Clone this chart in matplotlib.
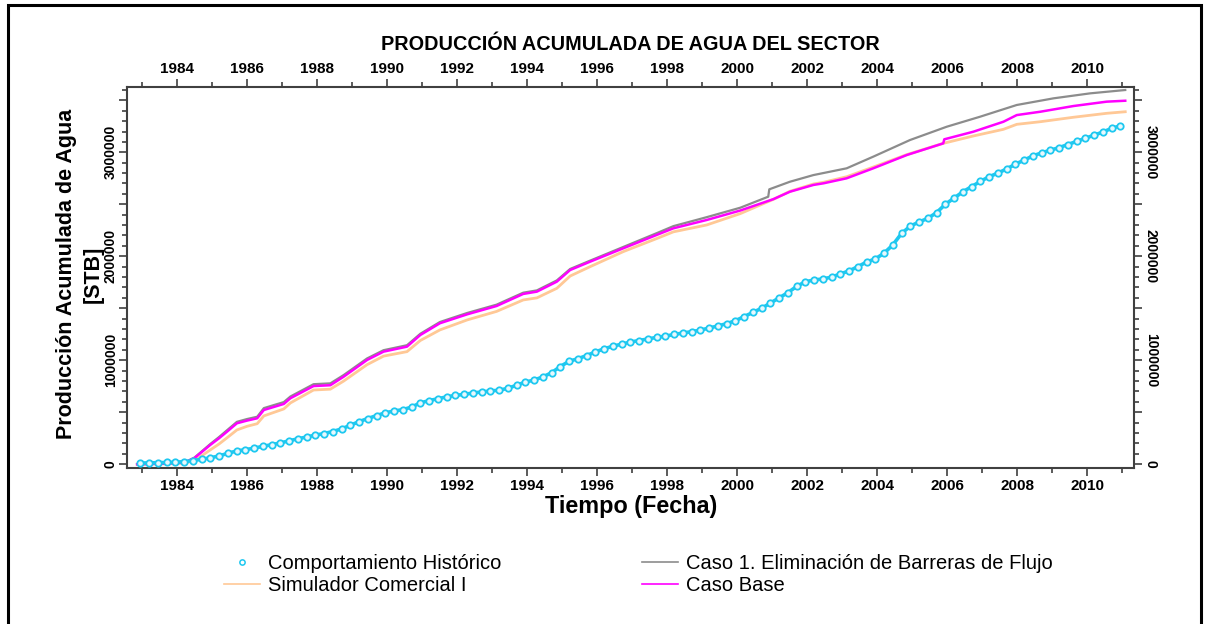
import numpy as np
import matplotlib
matplotlib.use("Agg")
import matplotlib.pyplot as plt
from matplotlib.patches import Rectangle
from matplotlib.lines import Line2D
from matplotlib.ticker import MultipleLocator, FuncFormatter

plt.rcParams["font.family"] = ["Liberation Sans", "DejaVu Sans"]

# --- data (values in thousands of STB) ---
base_years = [1982.86, 1983.5, 1984.2, 1984.5, 1984.95, 1985.2, 1985.43, 1985.71, 1986.0,
              1986.29, 1986.48, 1987.05, 1987.24, 1987.9, 1988.38, 1988.76, 1989.43, 1989.9,
              1990.57, 1990.95, 1991.51, 1992.29, 1993.13, 1993.89, 1994.28, 1994.85, 1995.23,
              1995.8, 1996.75, 1997.7, 1998.18, 1999.13, 2000.09, 2001.04, 2001.51, 2002.18,
              2002.47, 2003.13, 2003.89, 2004.85, 2005.89, 2005.92, 2006.75, 2007.61, 2007.99,
              2008.66, 2009.61, 2010.56, 2011.09]
base_vals = [0, 5, 15, 60, 186, 250, 314, 394, 420, 442, 522, 580, 635, 752, 760, 842, 1003,
             1083, 1131, 1243, 1356, 1442, 1522, 1638, 1660, 1756, 1868, 1948, 2077, 2205,
             2269, 2349, 2440, 2550, 2621, 2686, 2702, 2750, 2846, 2974, 3086, 3125, 3198,
             3294, 3358, 3390, 3445, 3487, 3496]

caso1_years = [1982.86, 1983.5, 1984.2, 1984.5, 1984.95, 1985.2, 1985.43, 1985.71, 1986.0,
               1986.29, 1986.48, 1987.05, 1987.24, 1987.9, 1988.38, 1988.76, 1989.43, 1989.9,
               1990.57, 1990.95, 1991.51, 1992.29, 1993.13, 1993.89, 1994.28, 1994.85, 1995.23,
               1995.8, 1996.75, 1997.7, 1998.18, 1999.13, 2000.09, 2000.89, 2000.92, 2001.51,
               2002.18, 2003.13, 2003.89, 2004.94, 2005.99, 2006.94, 2007.99, 2009.04, 2010.09,
               2011.09]
caso1_vals = [0, 5, 15, 65, 195, 262, 328, 408, 435, 457, 540, 598, 652, 770, 778, 858, 1018,
              1097, 1145, 1255, 1368, 1455, 1535, 1650, 1672, 1768, 1878, 1958, 2090, 2222,
              2290, 2376, 2467, 2573, 2644, 2717, 2781, 2846, 2958, 3118, 3246, 3342, 3455,
              3519, 3567, 3599]

sim_years = [1982.86, 1983.5, 1984.2, 1984.5, 1984.95, 1985.2, 1985.43, 1985.71, 1986.0,
             1986.29, 1986.48, 1987.05, 1987.24, 1987.9, 1988.38, 1988.76, 1989.43, 1989.9,
             1990.57, 1990.95, 1991.51, 1992.29, 1993.13, 1993.89, 1994.28, 1994.85, 1995.23,
             1995.8, 1996.75, 1997.7, 1998.18, 1999.13, 2000.09, 2001.04, 2001.51, 2002.18,
             2002.47, 2003.13, 2003.89, 2004.85, 2005.89, 2006.75, 2007.61, 2007.99, 2008.66,
             2009.61, 2010.56, 2011.09]
sim_vals = [0, 3, 10, 35, 138, 195, 255, 330, 365, 390, 465, 532, 590, 714, 722, 800, 958,
            1040, 1083, 1190, 1292, 1388, 1470, 1580, 1600, 1692, 1810, 1900, 2045, 2170,
            2235, 2301, 2410, 2548, 2625, 2695, 2712, 2765, 2858, 2978, 3086, 3157, 3221,
            3269, 3294, 3337, 3375, 3390]

# historical production, quarterly from 1982.95
hist_vals = [12, 13, 15, 17, 20, 25, 35, 48, 62, 80, 105, 128, 140, 155, 172, 188, 205, 225,
             245, 262, 280, 295, 315, 340, 375, 410, 440, 468, 495, 512, 525, 550, 590, 612,
             630, 648, 662, 672, 685, 695, 705, 712, 730, 760, 790, 810, 840, 880, 940, 990,
             1015, 1045, 1080, 1110, 1135, 1155, 1175, 1190, 1205, 1220, 1232, 1248, 1262,
             1275, 1290, 1310, 1330, 1352, 1380, 1420, 1460, 1500, 1550, 1600, 1650, 1710,
             1755, 1772, 1782, 1800, 1830, 1860, 1900, 1945, 1975, 2030, 2110, 2220, 2290,
             2330, 2365, 2420, 2500, 2560, 2620, 2670, 2720, 2765, 2800, 2840, 2885, 2925,
             2965, 2995, 3020, 3045, 3075, 3105, 3135, 3165, 3195, 3230, 3255]
hist_years = 1982.95 + 0.25 * np.arange(len(hist_vals))

x_ticks = list(range(1984, 2011, 2))

cyan = "#1EC8F0"
spine_col = "#404040"

# --- figure ---
fig = plt.figure(figsize=(12.06, 6.24), dpi=100)
fig.patches.append(Rectangle((8 / 1206, -0.05), 1193 / 1206, 1.05 - 5 / 624, fill=False,
                             lw=2.2, ec="black", transform=fig.transFigure, figure=fig))

ax = fig.add_axes([127 / 1206, 1 - 468 / 624, 1007 / 1206, 381 / 624])

k = 1000
ax.plot(sim_years, np.array(sim_vals) * k, color="#FFC896", lw=2.0, zorder=2)
ax.plot(caso1_years, np.array(caso1_vals) * k, color="#8C8C8C", lw=1.6, zorder=3)
ax.plot(base_years, np.array(base_vals) * k, color="#FF00FF", lw=1.8, zorder=4)
ax.plot(hist_years, np.array(hist_vals) * k, color=cyan, lw=2.6, zorder=5)
ax.plot(hist_years, np.array(hist_vals) * k, ls="none", marker="o", ms=4.6, mfc="#E8F8FD",
        mec=cyan, mew=1.3, zorder=6)

ax.set_xlim(1982.57, 2011.34)
ax.set_ylim(-36000, 3628000)

for s in ax.spines.values():
    s.set_color(spine_col)
    s.set_linewidth(1.5)


def ylab(v, p):
    return f"{int(round(v))}" if round(v) % 1000000 == 0 else ""


ax.set_xticks(x_ticks)
ax.set_xticklabels([str(y) for y in x_ticks])
ax.xaxis.set_minor_locator(MultipleLocator(1))
ax.yaxis.set_major_locator(MultipleLocator(500000))
ax.yaxis.set_minor_locator(MultipleLocator(100000))
ax.yaxis.set_major_formatter(FuncFormatter(ylab))

ax.tick_params(axis="x", which="both", top=True, labeltop=True, direction="out",
               color=spine_col, width=1.2)
ax.tick_params(axis="x", which="major", length=6, pad=2, labelsize=11)
ax.tick_params(axis="x", which="minor", length=3.5)
ax.tick_params(axis="y", which="both", direction="out", color=spine_col, width=1.2)
ax.tick_params(axis="y", which="major", length=6, pad=0.5, labelsize=10, labelrotation=90)
ax.tick_params(axis="y", which="minor", length=3.5)
for lbl in ax.get_xticklabels() + ax.get_yticklabels():
    lbl.set_fontweight("bold")
for lbl in ax.get_yticklabels():
    lbl.set_va("center")

ax2 = ax.twinx()
ax2.set_ylim(ax.get_ylim())
ax2.yaxis.set_major_locator(MultipleLocator(500000))
ax2.yaxis.set_minor_locator(MultipleLocator(100000))
ax2.yaxis.set_major_formatter(FuncFormatter(ylab))
ax2.tick_params(axis="y", which="both", direction="out", color=spine_col, width=1.2)
ax2.tick_params(axis="y", which="major", length=6, pad=1, labelsize=10, labelrotation=-90)
ax2.tick_params(axis="y", which="minor", length=3.5)
for s in ax2.spines.values():
    s.set_visible(False)
for lbl in ax2.get_yticklabels():
    lbl.set_fontweight("bold")
    lbl.set_va("center")

fig.text(630 / 1206, 1 - 45 / 624, "PRODUCCIÓN ACUMULADA DE AGUA DEL SECTOR", ha="center",
         va="center", fontsize=14.3, fontweight="bold")
fig.text(631 / 1206, 1 - 507 / 624, "Tiempo (Fecha)", ha="center", va="center",
         fontsize=16.8, fontweight="bold")
fig.text(80 / 1206, 1 - 274 / 624, "Producción Acumulada de Agua\n[STB]", ha="center",
         va="center", rotation=90, fontsize=15.5, fontweight="bold", linespacing=1.4,
         multialignment="center")

handles = [
    Line2D([], [], ls="none", marker="o", ms=3.8, mfc="white", mec=cyan, mew=1.1),
    Line2D([], [], color="#FFC896", lw=1.2),
    Line2D([], [], color="#8C8C8C", lw=1.2),
    Line2D([], [], color="#FF00FF", lw=1.2),
]
labels = ["Comportamiento Histórico", "Simulador Comercial I",
          "Caso 1. Eliminación de Barreras de Flujo", "Caso Base"]
fig.legend(handles, labels, ncol=2, loc="upper left", bbox_to_anchor=(224 / 1206, 1 - 554 / 624),
           frameon=False, fontsize=14.5, handlelength=1.8, handletextpad=0.4,
           columnspacing=6.97, labelspacing=0.13, borderpad=0, borderaxespad=0)

fig.savefig("out.png", dpi=100)
